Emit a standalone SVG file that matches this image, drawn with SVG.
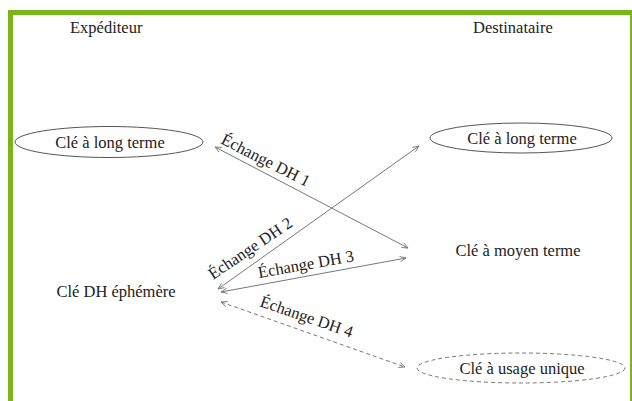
<svg xmlns="http://www.w3.org/2000/svg" width="632" height="401" viewBox="0 0 632 401">
  <defs>
    <style>
      .lbl { font-family: "Liberation Serif", "Times New Roman", serif; font-size: 16.5px; fill: #222; }
      .mid { text-anchor: middle; }
      .key { fill: #fff; stroke: #555; stroke-width: 1; }
      .key.dash { stroke: #777; stroke-dasharray: 4 3; }
      .edge { fill: none; stroke: #777; stroke-width: 1; marker-start: url(#tip); marker-end: url(#tip); }
      .edge.dash { stroke-dasharray: 4 3; }
    </style>
    <marker id="tip" viewBox="0 0 8 8" refX="7.5" refY="4" markerWidth="7" markerHeight="7" markerUnits="userSpaceOnUse" orient="auto-start-reverse">
      <path d="M0.5,1 L7.5,4 L0.5,7" fill="none" stroke="#777" stroke-width="1"/>
    </marker>
  </defs>

  <!-- frame -->
  <rect x="0" y="0" width="632" height="401" fill="#fff"/>
  <rect x="8" y="10" width="624" height="391" fill="#7ab51d"/>
  <rect x="13" y="15" width="617" height="386" fill="#fff"/>

  <!-- column headings -->
  <text class="lbl" x="70" y="33">Expéditeur</text>
  <text class="lbl" x="473" y="33">Destinataire</text>

  <!-- connectors -->
  <g id="connectors">
    <line class="edge" x1="215" y1="147" x2="408" y2="248"/>
    <line class="edge" x1="218" y1="289" x2="419" y2="146"/>
    <line class="edge" x1="221" y1="292" x2="406" y2="258"/>
    <line class="edge dash" x1="221" y1="302" x2="405" y2="367"/>
    <text class="lbl" transform="translate(220,143) rotate(27)">Échange DH 1</text>
    <text class="lbl" transform="translate(213,280) rotate(-34)">Échange DH 2</text>
    <text class="lbl" transform="translate(259,278) rotate(-10)">Échange DH 3</text>
    <text class="lbl" transform="translate(259,306) rotate(19)">Échange DH 4</text>
  </g>

  <!-- sender keys -->
  <g id="sender-long-term">
    <ellipse class="key" cx="109" cy="142" rx="94" ry="15.5"/>
    <text class="lbl mid" x="110" y="148">Clé à long terme</text>
  </g>
  <g id="sender-ephemeral">
    <text class="lbl mid" x="116" y="297">Clé DH éphémère</text>
  </g>

  <!-- recipient keys -->
  <g id="recipient-long-term">
    <ellipse class="key" cx="521" cy="138" rx="91" ry="15"/>
    <text class="lbl mid" x="522" y="144">Clé à long terme</text>
  </g>
  <g id="recipient-medium-term">
    <text class="lbl mid" x="518" y="256">Clé à moyen terme</text>
  </g>
  <g id="recipient-one-time">
    <ellipse class="key dash" cx="521" cy="368" rx="104" ry="15"/>
    <text class="lbl mid" x="522" y="374">Clé à usage unique</text>
  </g>
</svg>
